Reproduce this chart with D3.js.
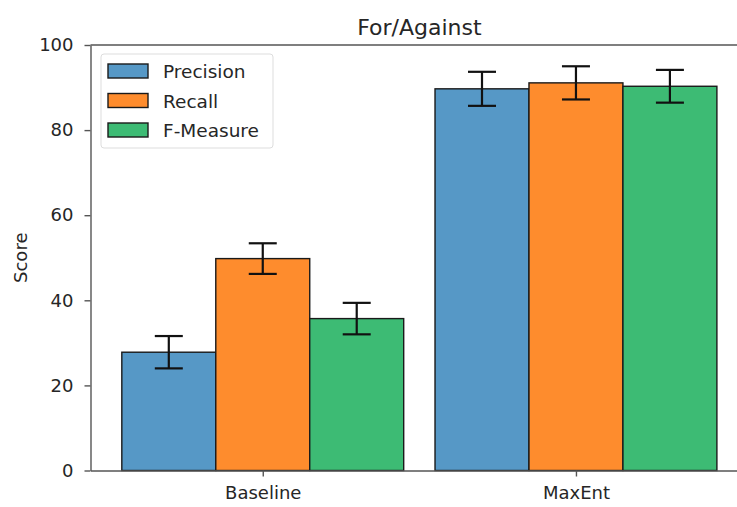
<!DOCTYPE html>
<html>
<head>
<meta charset="utf-8">
<script src="https://cdn.jsdelivr.net/npm/d3@7"></script>
<style>
  body { margin: 0; background: #fff; }
  text { font-family: "DejaVu Sans", sans-serif; fill: #262626; }
  .axis path, .axis line { stroke: #555; stroke-width: 1.4; }
  .axis text { font-size: 18px; fill: #262626; font-family: "DejaVu Sans", sans-serif; }
</style>
</head>
<body>
<svg id="chart" width="737" height="507"></svg>
<script>
var groups = ["Baseline", "MaxEnt"];
var metrics = ["Precision", "Recall", "F-Measure"];
var colors = ["#5698c6", "#fe8c2d", "#3dbb74"];
// scores per metric, one value per group
var precision = [27.8, 89.7];
var recall = [49.8, 91.1];
var fmeasure = [35.7, 90.3];
var precisionErr = [3.8, 4.0];
var recallErr = [3.6, 3.9];
var fmeasureErr = [3.7, 3.85];
var yTicks = [0, 20, 40, 60, 80, 100];

var values = [precision, recall, fmeasure];
var errs = [precisionErr, recallErr, fmeasureErr];
var barW = 0.3;

var svg = d3.select("#chart");
var plotLeft = 90.5, plotTop = 45, plotBottom = 470.5;

var x = d3.scaleLinear().domain([-0.55, 1.55]).range([plotLeft, plotLeft + 2.1 * 313.2]);
var y = d3.scaleLinear().domain([0, 100]).range([plotBottom, plotTop]);

// bars
metrics.forEach(function(m, j) {
  svg.append("g").selectAll("rect")
    .data(values[j])
    .enter()
    .append("rect")
    .attr("x", function(d, i) { return x(i + (j - 1) * barW - barW / 2); })
    .attr("width", x(barW) - x(0))
    .attr("y", function(d) { return y(d); })
    .attr("height", function(d) { return y(0) - y(d); })
    .attr("fill", colors[j])
    .attr("stroke", "#1a1a1a")
    .attr("stroke-width", 1.4);
});

// error bars
metrics.forEach(function(m, j) {
  var g = svg.append("g").attr("stroke", "#111").attr("stroke-width", 2.2);
  values[j].forEach(function(v, i) {
    var cx = x(i + (j - 1) * barW);
    var e = errs[j][i];
    g.append("line").attr("x1", cx).attr("x2", cx).attr("y1", y(v - e)).attr("y2", y(v + e));
    g.append("line").attr("x1", cx - 14).attr("x2", cx + 14).attr("y1", y(v - e)).attr("y2", y(v - e));
    g.append("line").attr("x1", cx - 14).attr("x2", cx + 14).attr("y1", y(v + e)).attr("y2", y(v + e));
  });
});

// axes
var yAxis = d3.axisLeft(y).tickValues(yTicks).tickSize(6).tickPadding(11).tickSizeOuter(0);
svg.append("g").attr("class", "axis")
  .attr("transform", "translate(" + plotLeft + ",0)")
  .call(yAxis);

var xAxis = d3.axisBottom(x).tickValues([0, 1]).tickFormat(function(d) { return groups[d]; })
  .tickSize(6).tickPadding(10).tickSizeOuter(0);
svg.append("g").attr("class", "axis")
  .attr("transform", "translate(0," + plotBottom + ")")
  .call(xAxis);

// top spine
svg.append("line")
  .attr("x1", plotLeft).attr("x2", 737).attr("y1", plotTop).attr("y2", plotTop)
  .attr("stroke", "#555").attr("stroke-width", 1.4);

// title and labels
svg.append("text")
  .attr("x", (plotLeft + x.range()[1]) / 2).attr("y", 35)
  .attr("text-anchor", "middle")
  .style("font-size", "22px")
  .text("For/Against");

svg.append("text")
  .attr("transform", "translate(27," + (plotTop + plotBottom) / 2 + ") rotate(-90)")
  .attr("text-anchor", "middle")
  .style("font-size", "18px")
  .text("Score");

// legend
var legend = svg.append("g").attr("transform", "translate(101,54)");
legend.append("rect")
  .attr("width", 172).attr("height", 94).attr("rx", 3)
  .attr("fill", "#fff").attr("fill-opacity", 0.8)
  .attr("stroke", "#ddd");
metrics.forEach(function(m, j) {
  var row = legend.append("g").attr("transform", "translate(0," + (10 + j * 29.5) + ")");
  row.append("rect")
    .attr("x", 7).attr("width", 40).attr("height", 14)
    .attr("fill", colors[j]).attr("stroke", "#1a1a1a").attr("stroke-width", 1.4);
  row.append("text")
    .attr("x", 62).attr("y", 14)
    .style("font-size", "18.5px")
    .text(m);
});
</script>
</body>
</html>
